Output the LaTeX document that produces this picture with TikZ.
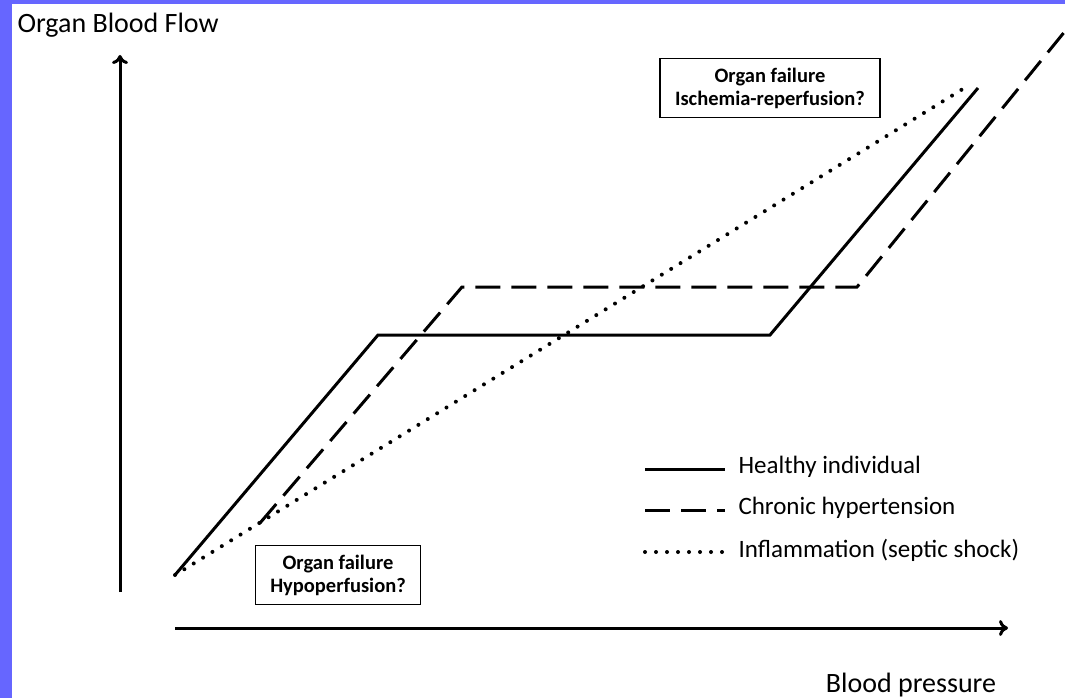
\documentclass[tikz,border=0pt]{standalone}
\usepackage{fontspec}
\setmainfont{Carlito}
\usetikzlibrary{arrows.meta}

\definecolor{frameblue}{HTML}{6666FF}

\tikzset{
    curve/.style={line width=3pt, line join=miter},
    healthy/.style={curve},
    hypert/.style={curve, dash pattern=on 25pt off 11pt},
    inflam/.style={curve, line width=4pt, line cap=round, dash pattern=on 0pt off 11pt},
    failbox/.style={draw, line width=1.3pt, align=center, inner xsep=15pt, inner ysep=9.5pt,
        font=\fontsize{20.5}{23}\selectfont\bfseries},
    legtext/.style={anchor=west, font=\fontsize{25}{27}\selectfont}
}

\begin{document}
\begin{tikzpicture}[x=1pt, y={(0pt,-1pt)}, >={To[length=9pt,width=16pt]}]
    \useasboundingbox (0,0) rectangle (1065,698);
    % Frame:
    % the blue strips on the left and top edge
    \fill [frameblue] (0,0) rectangle (12,698);
    \fill [frameblue] (0,0) rectangle (1065,4);

    \begin{scope}[line width=3pt]
    % Axes:
    \draw [->] (120,592) -- (120,55);
    \draw [->] (175,628) -- (1008,628);
    \end{scope}
    % Axis labels
    \node (ylabel) [anchor=west, font=\fontsize{28}{30}\selectfont] at (14,25) {Organ Blood Flow};
    \node (xlabel) [font=\fontsize{28}{30}\selectfont] at (911,685) {Blood pressure};

    % The three autoregulation curves
    \draw [healthy] (175,575) -- (378,335) -- (770,335) -- (978,88);
    \draw [hypert] (260,523) -- (462,287) -- (857,287) -- (1066,30);
    \draw [inflam] (175,575) -- (966,87);

    % Boxes with the organ failure questions
    \node (ischemia) [failbox] at (770,88) {Organ failure\\Ischemia-reperfusion?};
    \node (hypoperf) [failbox] at (338,575) {Organ failure\\Hypoperfusion?};

    % Legend:
    \foreach \y/\st/\txt [count=\i] in {469/healthy/Healthy individual,
                                       510/hypert/Chronic hypertension,
                                       552/inflam/Inflammation (septic shock)}{%
        \coordinate (leg\i) at (645,\y);
        \draw [\st] (leg\i) -- ++(80,0);
        \node (legtxt\i) [legtext] at (735,\y-2) {\txt};
    }
\end{tikzpicture}
\end{document}
